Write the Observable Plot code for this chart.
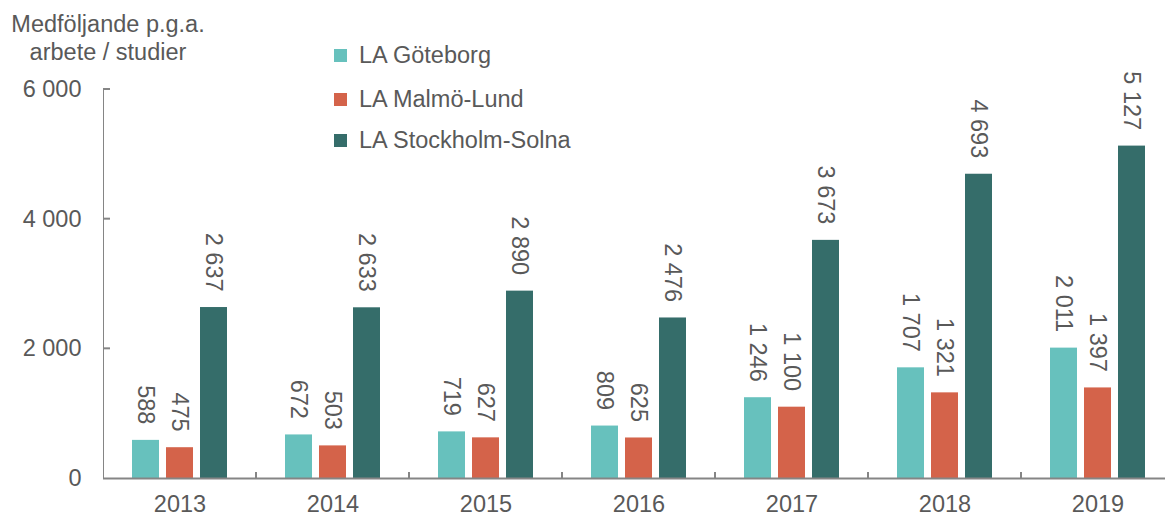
<!DOCTYPE html>
<html>
<head>
<meta charset="utf-8">
<script src="https://cdn.jsdelivr.net/npm/d3@7"></script>
<script src="https://cdn.jsdelivr.net/npm/@observablehq/plot@0.6"></script>
<style>
  body { margin: 0; background: #fff; font-family: "Liberation Sans", Arial, sans-serif; color: #595959; }
  #wrap { position: relative; width: 1165px; height: 517px; overflow: hidden; }
  #title { position: absolute; left: 0; top: 10px; width: 216px; text-align: center; font-size: 23.5px; line-height: 28px; }
  #head { height: 70px; }
  .lg { position: absolute; left: 334px; height: 42px; display: flex; align-items: center; font-size: 23.5px; white-space: nowrap; }
  .sw { width: 13px; height: 13px; margin-right: 12px; }
  svg text { fill: #595959; }
</style>
</head>
<body>
<div id="wrap">
  <div id="head"></div>
  <div id="title">Medföljande p.g.a.<br>arbete / studier</div>
  <div id="chart"></div>
  <div id="legend"></div>
</div>
<script>
const years = ["2013", "2014", "2015", "2016", "2017", "2018", "2019"];
const series = ["LA Göteborg", "LA Malmö-Lund", "LA Stockholm-Solna"];
const colors = ["#67c1bd", "#d4634a", "#356d6a"];
const goteborg = [588, 672, 719, 809, 1246, 1707, 2011];
const malmo = [475, 503, 627, 625, 1100, 1321, 1397];
const stockholm = [2637, 2633, 2890, 2476, 3673, 4693, 5127];
const yTicks = [0, 2000, 4000, 6000];

const values = [goteborg, malmo, stockholm];
const data = years.flatMap((yr, i) => series.map((s, j) => ({year: yr, series: s, value: values[j][i]})));
const fmt = d => d3.format(",")(d).replace(/,/g, " ");
const axisColor = "#858585";

const plot = Plot.plot({
  width: 1165,
  height: 447,
  marginTop: 19,
  marginBottom: 39,
  marginLeft: 103,
  marginRight: -9,
  style: {fontFamily: '"Liberation Sans", Arial, sans-serif', fontSize: "23.5px", color: axisColor, background: "transparent", overflow: "visible"},
  fx: {domain: years, padding: 0, axis: "bottom", tickSize: 0, tickPadding: 17, label: null},
  x: {domain: series, axis: null, paddingInner: 0.206, paddingOuter: 0.853},
  y: {domain: [0, 6000], ticks: yTicks, tickFormat: fmt, tickSize: 0, tickPadding: 22, label: null, line: true},
  color: {domain: series, range: colors},
  marks: [
    Plot.barY(data, {fx: "year", x: "series", y: "value", fill: "series"}),
    Plot.ruleY([0], {stroke: axisColor, strokeWidth: 2}),
    Plot.text(data, {fx: "year", x: "series", y: "value", text: d => fmt(d.value), rotate: 90, textAnchor: "end", dy: -16, fill: "#595959"})
  ]
});

const fxs = plot.scale("fx");
const ys = plot.scale("y");
const y0 = ys.apply(0);
const svg = d3.select(plot);
// small upward ticks at the boundaries between year groups
years.slice(1).forEach(yr => {
  const xb = fxs.apply(yr);
  svg.append("line").attr("x1", xb).attr("x2", xb).attr("y1", y0 - 6).attr("y2", y0)
    .attr("stroke", axisColor).attr("stroke-width", 2);
});
// inward y ticks
const xLeft = fxs.apply(years[0]);
yTicks.slice(1).forEach(t => {
  const yy = ys.apply(t);
  svg.append("line").attr("x1", xLeft).attr("x2", xLeft + 7).attr("y1", yy).attr("y2", yy)
    .attr("stroke", axisColor).attr("stroke-width", 2);
});

document.getElementById("chart").appendChild(plot);

const legend = document.getElementById("legend");
const rowTops = [34.5, 78, 119.5];
series.forEach((s, i) => {
  const row = document.createElement("div");
  row.className = "lg";
  row.style.top = rowTops[i] + "px";
  row.innerHTML = `<div class="sw" style="background:${colors[i]}"></div><span>${s}</span>`;
  legend.appendChild(row);
});
</script>
</body>
</html>
